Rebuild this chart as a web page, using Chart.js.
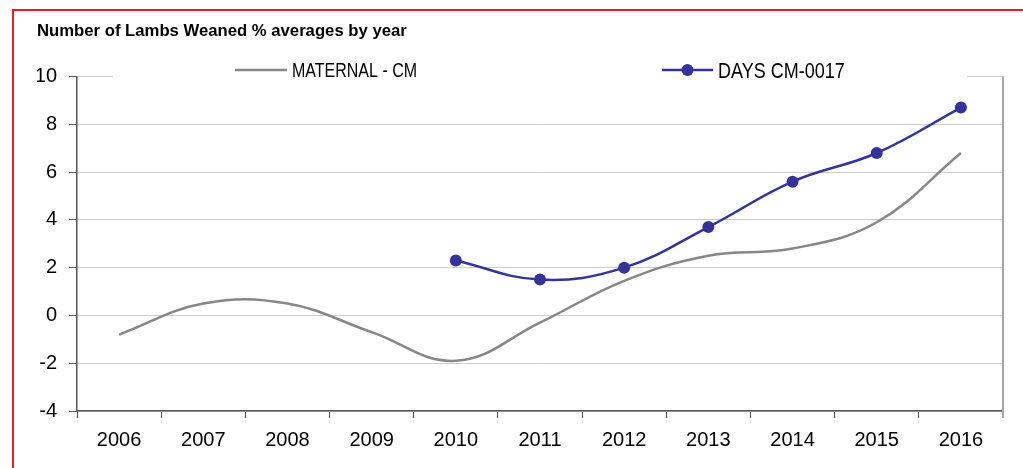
<!DOCTYPE html>
<html>
<head>
<meta charset="utf-8">
<script src="https://cdn.jsdelivr.net/npm/chart.js@4.4.1/dist/chart.umd.min.js"></script>
<style>
  html, body { margin: 0; padding: 0; background: #fff; overflow: hidden; }
  #wrap { position: relative; width: 1023px; height: 468px; }
  #frame {
    position: absolute; left: 12px; top: 9px; width: 1100px; height: 600px;
    border-top: 2px solid #ec1c24; border-left: 2px solid #ec1c24;
    pointer-events: none;
  }
</style>
</head>
<body>
<div id="wrap">
  <canvas id="myChart" width="1023" height="468"></canvas>
  <div id="frame"></div>
</div>
<script>
const years = ["2006", "2007", "2008", "2009", "2010", "2011", "2012", "2013", "2014", "2015", "2016"];
const maternal = [-0.8, 0.5, 0.5, -0.7, -1.9, -0.3, 1.45, 2.5, 2.8, 3.9, 6.8];
const daysCm = [null, null, null, null, 2.3, 1.5, 2.0, 3.7, 5.6, 6.8, 8.7];
const yTicks = [-4, -2, 0, 2, 4, 6, 8, 10];

const FONT = '"Liberation Sans", Arial, sans-serif';

// white box behind the legend (hides the top gridline) and the right border of the plot
const plotFrame = {
  id: "plotFrame",
  beforeDatasetsDraw(chart) {
    const { ctx, chartArea } = chart;
    ctx.save();
    ctx.fillStyle = "#fff";
    ctx.fillRect(chartArea.left + 36, chartArea.top - 4, chartArea.width - 72, 8);
    ctx.strokeStyle = "#a6a6a6";
    ctx.lineWidth = 2;
    ctx.beginPath();
    ctx.moveTo(chartArea.right, chartArea.top);
    ctx.lineTo(chartArea.right, chartArea.bottom + 7);
    ctx.stroke();
    ctx.restore();
  },
};

// legend drawn by hand so each entry sits where it does in the original
// (text squeezed horizontally to mimic the condensed face of the source)
const lineLegend = {
  id: "lineLegend",
  afterDraw(chart, args, opts) {
    const { ctx } = chart;
    chart.data.datasets.forEach((ds, i) => {
      const item = opts.items[i];
      const y = opts.y;
      ctx.save();
      ctx.strokeStyle = ds.borderColor;
      ctx.lineWidth = ds.borderWidth;
      ctx.beginPath();
      ctx.moveTo(item.x, y);
      ctx.lineTo(item.x + item.len, y);
      ctx.stroke();
      if (ds.pointRadius > 0) {
        ctx.fillStyle = ds.pointBackgroundColor;
        ctx.beginPath();
        ctx.arc(item.x + item.len / 2, y, ds.pointRadius, 0, Math.PI * 2);
        ctx.fill();
      }
      ctx.fillStyle = "#000";
      ctx.font = item.size + "px " + FONT;
      ctx.textBaseline = "middle";
      ctx.translate(item.x + item.len + 5, y + 1.5);
      ctx.scale(opts.squeeze, 1);
      ctx.fillText(ds.label, 0, 0);
      ctx.restore();
    });
  },
};

const ctx = document.getElementById("myChart").getContext("2d");
const myChart = new Chart(ctx, {
  type: "line",
  data: {
    labels: years,
    datasets: [
      {
        label: "MATERNAL - CM",
        data: maternal,
        borderColor: "#878787",
        borderWidth: 2.5,
        pointRadius: 0,
        tension: 0.4,
      },
      {
        label: "DAYS CM-0017",
        data: daysCm,
        borderColor: "#333399",
        backgroundColor: "#333399",
        pointBackgroundColor: "#333399",
        pointBorderWidth: 0,
        borderWidth: 2.5,
        pointRadius: 6,
        tension: 0.4,
      },
    ],
  },
  options: {
    responsive: false,
    animation: false,
    layout: { padding: { left: 37, right: 20, top: 0, bottom: 0 } },
    plugins: {
      legend: { display: false },
      tooltip: { enabled: false },
      title: {
        display: true,
        text: "Number of Lambs Weaned % averages by year",
        align: "start",
        color: "#000",
        font: { family: FONT, size: 16.7, weight: "bold" },
        padding: { top: 21.5, bottom: 35 },
      },
      lineLegend: {
        y: 70,
        squeeze: 0.8,
        items: [
          { x: 235, len: 52, size: 20 },
          { x: 662, len: 51, size: 22.5 },
        ],
      },
    },
    scales: {
      x: {
        offset: true,
        grid: {
          offset: true,
          drawOnChartArea: false,
          tickLength: 7,
          tickColor: "#555",
        },
        border: { color: "#555", width: 1.5 },
        ticks: {
          color: "#000",
          font: { family: FONT, size: 20 },
          padding: 10,
          maxRotation: 0,
          autoSkip: false,
        },
        afterFit(scale) {
          scale.height = 57;
        },
      },
      y: {
        min: yTicks[0],
        max: yTicks[yTicks.length - 1],
        afterBuildTicks(scale) {
          scale.ticks = yTicks.map((v) => ({ value: v }));
        },
        grid: {
          color: "#cccccc",
          tickColor: "#555",
          tickLength: 8,
        },
        border: { color: "#555", width: 1.5 },
        ticks: {
          color: "#000",
          font: { family: FONT, size: 20 },
          padding: 12,
        },
        afterFit(scale) {
          scale.width = 40;
        },
      },
    },
  },
  plugins: [plotFrame, lineLegend],
});
</script>
</body>
</html>
